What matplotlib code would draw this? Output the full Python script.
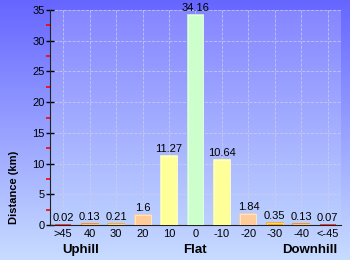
import numpy as np
import matplotlib.pyplot as plt
from matplotlib.colors import LinearSegmentedColormap

plt.rcParams['font.family'] = ['Liberation Sans', 'DejaVu Sans']

# gradient categories and distances (km)
grades = ['>45', '40', '30', '20', '10', '0', '-10', '-20', '-30', '-40', '<-45']
distance = [0.02, 0.13, 0.21, 1.6, 11.27, 34.16, 10.64, 1.84, 0.35, 0.13, 0.07]
labels = ['0.02', '0.13', '0.21', '1.6', '11.27', '34.16', '10.64', '1.84', '0.35', '0.13', '0.07']
bar_colors = ['#ff2020', '#ff8800', '#ffaa00', '#ffcc99', '#ffff99', '#ccffcc',
              '#ffff99', '#ffcc99', '#ffaa00', '#ff8800', '#ff2020']

fig = plt.figure(figsize=(3.5, 2.6), dpi=100)

# background gradient for the whole figure
bg = fig.add_axes([0, 0, 1, 1], zorder=-10)
bg_cmap = LinearSegmentedColormap.from_list('bg', ['#c8dcff', '#6666ff'])
bg.imshow(np.linspace(0, 1, 256).reshape(-1, 1), aspect='auto', cmap=bg_cmap,
          origin='lower', extent=[0, 1, 0, 1])
bg.axis('off')

ax = fig.add_axes([50/350, 35/260, 291/350, 215/260])
ax.patch.set_alpha(0)
# lighter plot area
area_cmap = LinearSegmentedColormap.from_list('area', ['#bcd0ff', '#8686ff'])
ax.imshow(np.linspace(0, 1, 256).reshape(-1, 1), aspect='auto', cmap=area_cmap,
          origin='lower', extent=[-0.5, 10.5, 0, 35], zorder=0)

x = np.arange(len(grades))
ax.bar(x, distance, width=0.6, color=bar_colors, edgecolor=bar_colors, linewidth=1.2, zorder=3)
ax.bar(x, distance, width=0.6, color='none', edgecolor='white', linewidth=0.5, alpha=0.7, zorder=3)
for xi, d, lab in zip(x, distance, labels):
    ax.text(xi, d + 0.3, lab, ha='center', va='bottom', fontsize=8, color='black', zorder=4)

ax.set_xlim(-0.5, 10.5)
ax.set_ylim(0, 35)
ax.set_xticks(x)
ax.set_xticklabels(grades, fontsize=8)
ax.set_yticks(np.arange(0, 36, 5))
ax.set_yticklabels([str(v) for v in range(0, 36, 5)], fontsize=8)
ax.set_yticks(np.arange(2.5, 35, 5), minor=True)
ax.tick_params(axis='y', which='major', direction='inout', length=6, width=1, pad=1)
ax.tick_params(axis='y', which='minor', direction='out', length=3, color='red', width=1.2)
ax.tick_params(axis='x', length=0, pad=3)
ax.grid(True, color='#d0d0e8', linestyle='--', linewidth=0.6, alpha=0.8, zorder=1)
for s in ['top', 'right']:
    ax.spines[s].set_visible(False)
ax.spines['left'].set_color('#222222')
ax.spines['bottom'].set_color('#222222')

fig.text(14/350, 1 - 224/260, 'Distance (km)', fontsize=8, fontweight='bold',
         rotation=90, ha='center', va='bottom')
fig.text(81/350, 1 - 250/260, 'Uphill', fontsize=9.5, fontweight='bold', ha='center', va='center')
fig.text(195/350, 1 - 250/260, 'Flat', fontsize=9.5, fontweight='bold', ha='center', va='center')
fig.text(310/350, 1 - 250/260, 'Downhill', fontsize=9.5, fontweight='bold', ha='center', va='center')

fig.savefig('out.png', dpi=100)
